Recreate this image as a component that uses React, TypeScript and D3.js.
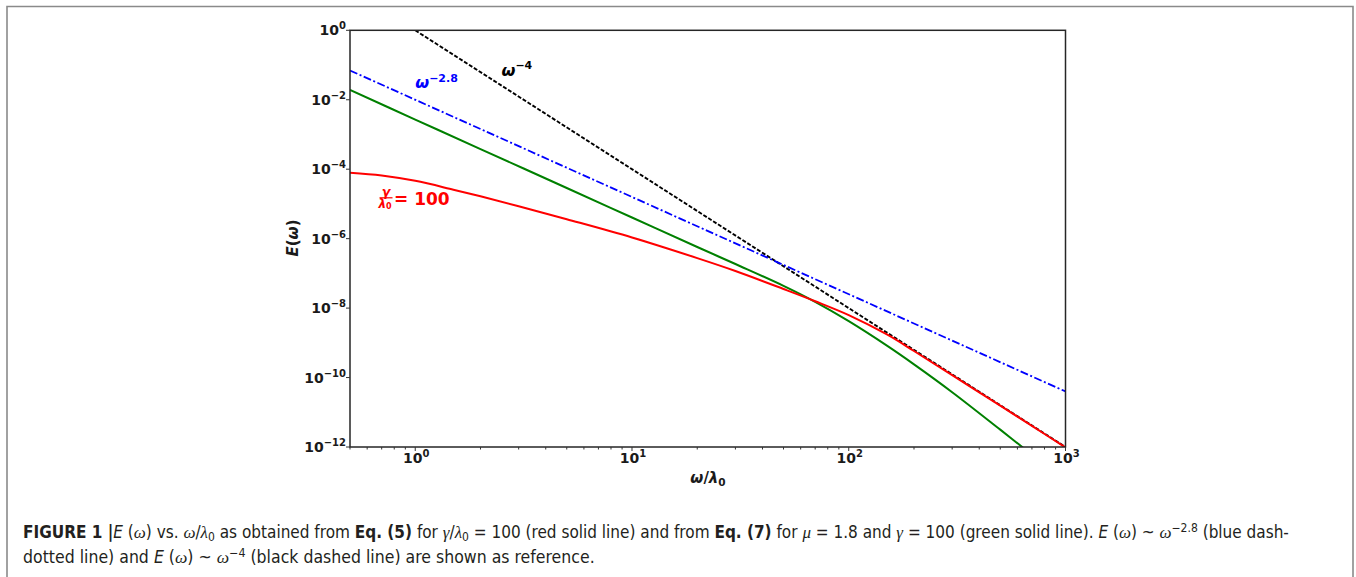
import React, { useEffect, useRef } from 'react';
import * as d3 from 'd3';

const W = 1356;
const H = 577;

// values (x = ω/λ0, y = E(ω))
const redOmega = [0.5, 0.7, 1, 1.5, 2, 3, 5, 10, 20, 30, 50, 70, 100, 150, 200, 300, 500, 700, 1000];
const redE = [7.94e-5, 6.61e-5, 4.62e-5, 2.57e-5, 1.66e-5, 8.61e-6, 3.63e-6, 1.08e-6, 2.75e-7, 1.17e-7, 3.55e-8, 1.58e-8, 6.3e-9, 1.74e-9, 5.82e-10, 1.17e-10, 1.55e-11, 4.05e-12, 9.7e-13];

const greenOmega = [0.5, 1, 2, 5, 10, 20, 30, 50, 70, 100, 150, 200, 300, 500, 700];
const greenE = [1.91e-2, 2.69e-3, 3.8e-4, 2.88e-5, 4.07e-6, 5.75e-7, 1.86e-7, 4.37e-8, 1.51e-8, 4.19e-9, 8.28e-10, 2.4e-10, 3.79e-11, 3.16e-12, 6.0e-13];

// reference power laws, end points only
const blueOmega = [0.5, 1000];
const blueE = [6.96e-2, 3.98e-11];
const blackOmega = [1, 1000];
const blackE = [1, 1e-12];

const xMajorExps = [0, 1, 2, 3];
const yMajorExps = [0, -2, -4, -6, -8, -10, -12];

const plot = { left: 350, right: 1065.5, top: 30.3, bottom: 447 };

const axisFont = "'DejaVu Sans', sans-serif";
const capFont = "'Liberation Sans Narrow', 'DejaVu Sans Condensed', 'Liberation Sans', sans-serif";
const greekFont = "'Liberation Serif', 'DejaVu Serif', serif";

const zip = (xs: number[], ys: number[]) => xs.map((x, i) => [x, ys[i]] as [number, number]);

const minus = (n: number) => (n < 0 ? '\u2212' + Math.abs(n) : String(n));

const Greek: React.FC<{ c: string }> = ({ c }) => (
  <tspan fontFamily={greekFont} fontStyle="italic">{c}</tspan>
);

const App: React.FC = () => {
  const line1Ref = useRef<SVGTextElement>(null);
  const line2Ref = useRef<SVGTextElement>(null);

  const x = d3.scaleLog().domain([0.5, 1000]).range([plot.left, plot.right]);
  const y = d3.scaleLog().domain([1e-12, 1]).range([plot.bottom, plot.top]);

  const smooth = d3.line<[number, number]>()
    .x((d) => x(d[0]))
    .y((d) => y(d[1]))
    .curve(d3.curveCatmullRom.alpha(0.5));
  const straight = d3.line<[number, number]>()
    .x((d) => x(d[0]))
    .y((d) => y(d[1]));

  const minorX = x.ticks().filter((t) => Math.abs(Math.log10(t) - Math.round(Math.log10(t))) > 1e-6);

  // stretch caption lines to the width they have in the figure
  useEffect(() => {
    const fit = (el: SVGTextElement | null, x0: number, x1: number) => {
      if (!el) return;
      el.removeAttribute('transform');
      const w = el.getBBox().width;
      if (!w) return;
      const s = (x1 - x0) / w;
      el.setAttribute('transform', `matrix(${s},0,0,1,${x0 * (1 - s)},0)`);
    };
    fit(line1Ref.current, 23, 1290);
    fit(line2Ref.current, 23, 595);
  }, []);

  return (
    <svg
      width={W}
      height={H}
      style={{ position: 'absolute', left: 0, top: 0, background: '#fff' }}
    >
      <defs>
        <clipPath id="plot-clip">
          <rect x={plot.left} y={plot.top} width={plot.right - plot.left} height={plot.bottom - plot.top} />
        </clipPath>
      </defs>

      {/* outer figure frame */}
      <path d={`M7,${H} V6.5 H1353 V${H}`} fill="none" stroke="#8a8a8a" strokeWidth={1.6} />

      {/* curves */}
      <g clipPath="url(#plot-clip)" fill="none" strokeWidth={2}>
        <path d={straight(zip(blackOmega, blackE)) || ''} stroke="#000" strokeDasharray="4 1.8" strokeWidth={1.9} />
        <path d={straight(zip(blueOmega, blueE)) || ''} stroke="#0000ff" strokeDasharray="8 2.5 2 2.5" strokeWidth={1.8} />
        <path d={smooth(zip(greenOmega, greenE)) || ''} stroke="#008000" />
        <path d={smooth(zip(redOmega, redE)) || ''} stroke="#ff0000" />
      </g>

      {/* spines */}
      <rect
        x={plot.left}
        y={plot.top}
        width={plot.right - plot.left}
        height={plot.bottom - plot.top}
        fill="none"
        stroke="#262626"
        strokeWidth={1.5}
      />

      {/* ticks */}
      <g stroke="#333" strokeWidth={1}>
        {minorX.map((t) => (
          <line key={`mx${t}`} x1={x(t)} x2={x(t)} y1={plot.bottom} y2={plot.bottom + 2.5} />
        ))}
        {xMajorExps.map((e) => (
          <line key={`Mx${e}`} x1={x(10 ** e)} x2={x(10 ** e)} y1={plot.bottom} y2={plot.bottom + 4} />
        ))}
        {yMajorExps.map((e) => (
          <line key={`My${e}`} x1={plot.left - 4} x2={plot.left} y1={y(10 ** e)} y2={y(10 ** e)} />
        ))}
      </g>

      <g fontFamily={axisFont} fontWeight="bold" fill="#1a1a1a">
        {xMajorExps.map((e) => (
          <text key={`lx${e}`} x={x(10 ** e) + 1} y={463.3} fontSize={14} textAnchor="middle">
            10<tspan dy={-6} fontSize={10}>{minus(e)}</tspan>
          </text>
        ))}
        {yMajorExps.map((e) => (
          <text key={`ly${e}`} x={346} y={y(10 ** e) + 5} fontSize={14} textAnchor="end">
            10<tspan dy={-6} fontSize={10}>{minus(e)}</tspan>
          </text>
        ))}

        {/* axis titles */}
        <text x={708} y={483} fontSize={15} textAnchor="middle">
          <tspan fontStyle="italic">ω</tspan>/<tspan fontStyle="italic">λ</tspan>
          <tspan dy={3} fontSize={10.5}>0</tspan>
        </text>
        <text transform="translate(298,238) rotate(-90)" fontSize={15} textAnchor="middle">
          <tspan fontStyle="italic">E</tspan>(<tspan fontStyle="italic">ω</tspan>)
        </text>

        {/* curve annotations */}
        <text x={x(2.5)} y={y(4.8e-2)} fontSize={16} fill="#000">
          <tspan fontStyle="italic">ω</tspan>
          <tspan dy={-7} fontSize={11}>{'\u22124'}</tspan>
        </text>
        <text x={x(1.0)} y={y(2.2e-2)} fontSize={16} fill="#0000ff">
          <tspan fontStyle="italic">ω</tspan>
          <tspan dy={-6} fontSize={11}>{'\u22122.8'}</tspan>
        </text>
        <g fill="#ff0000">
          <text x={386} y={195.8} fontSize={12.5} fontStyle="italic" textAnchor="middle">γ</text>
          <line x1={379.5} x2={392.5} y1={197.8} y2={197.8} stroke="#ff0000" strokeWidth={1.2} />
          <text x={385} y={207.5} fontSize={12} textAnchor="middle">
            <tspan fontStyle="italic">λ</tspan>
            <tspan dy={1.5} fontSize={8}>0</tspan>
          </text>
          <text x={394} y={204.5} fontSize={17}>= 100</text>
        </g>
      </g>

      {/* caption */}
      <g fontFamily={capFont} fontSize={17} fill="#231f20">
        <text ref={line1Ref} x={23} y={538}>
          <tspan fontWeight="bold">FIGURE 1 |</tspan>
          <tspan fontStyle="italic">E</tspan> (<Greek c="ω" />) vs. <Greek c="ω" />/<Greek c="λ" />
          <tspan dy={3} fontSize={12}>0</tspan>
          <tspan dy={-3}> as obtained from </tspan>
          <tspan fontWeight="bold">Eq. (5)</tspan> for <Greek c="γ" />/<Greek c="λ" />
          <tspan dy={3} fontSize={12}>0</tspan>
          <tspan dy={-3}> = 100 (red solid line) and from </tspan>
          <tspan fontWeight="bold">Eq. (7)</tspan> for <Greek c="μ" /> = 1.8 and <Greek c="γ" /> = 100 (green solid line).{' '}
          <tspan fontStyle="italic">E</tspan> (<Greek c="ω" />) ~ <Greek c="ω" />
          <tspan dy={-6} fontSize={12}>{'\u22122.8'}</tspan>
          <tspan dy={6}> (blue dash-</tspan>
        </text>
        <text ref={line2Ref} x={23} y={563}>
          dotted line) and <tspan fontStyle="italic">E</tspan> (<Greek c="ω" />) ~ <Greek c="ω" />
          <tspan dy={-6} fontSize={12}>{'\u22124'}</tspan>
          <tspan dy={6}>  (black dashed line) are shown as reference.</tspan>
        </text>
      </g>
    </svg>
  );
};

export default App;
